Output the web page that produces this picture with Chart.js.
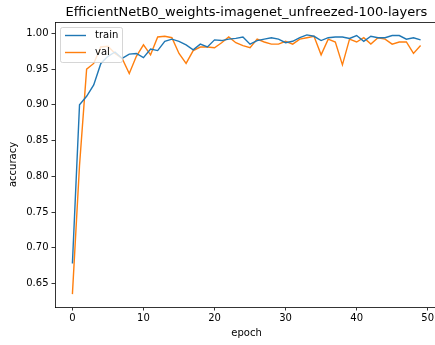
<!DOCTYPE html>
<html>
<head>
<meta charset="utf-8">
<script src="https://cdn.jsdelivr.net/npm/chart.js@4.4.1/dist/chart.umd.min.js"></script>
<style>
  html, body { margin: 0; padding: 0; background: #fff; overflow: hidden; }
  #wrap { width: 445px; height: 345px; }
</style>
</head>
<body>
<div id="wrap"><canvas id="chart" width="445" height="345"></canvas></div>
<script>
const chartTitle = 'EfficientNetB0_weights-imagenet_unfreezed-100-layers';
const xLabel = 'epoch';
const yLabel = 'accuracy';

const epochs = [...Array(50).keys()];
const train = [
  0.678, 0.900, 0.912, 0.928, 0.958, 0.968, 0.974, 0.965, 0.971, 0.972,
  0.966, 0.978, 0.976, 0.989, 0.992, 0.989, 0.984, 0.977, 0.985, 0.981,
  0.991, 0.990, 0.992, 0.993, 0.995, 0.985, 0.990, 0.992, 0.994, 0.992,
  0.987, 0.989, 0.994, 0.998, 0.996, 0.990, 0.994, 0.995, 0.995, 0.993,
  0.997, 0.989, 0.996, 0.994, 0.994, 0.997, 0.997, 0.992, 0.994, 0.991
];
const val = [
  0.635, 0.815, 0.950, 0.958, 0.981, 0.982, 0.972, 0.965, 0.944, 0.968,
  0.984, 0.970, 0.995, 0.996, 0.994, 0.972, 0.958, 0.976, 0.981, 0.981,
  0.980, 0.987, 0.995, 0.987, 0.983, 0.980, 0.992, 0.988, 0.985, 0.985,
  0.989, 0.985, 0.992, 0.994, 0.996, 0.970, 0.992, 0.988, 0.956, 0.992,
  0.988, 0.994, 0.985, 0.994, 0.992, 0.985, 0.988, 0.988, 0.972, 0.983
];
const xTicks = [0, 10, 20, 30, 40, 50];
const yTicks = [0.65, 0.70, 0.75, 0.80, 0.85, 0.90, 0.95, 1.00];

const FONT = 'DejaVu Sans';

// title, axis labels, legend and top spine drawn inside the canvas
const decorations = {
  id: 'decorations',
  afterDraw(chart) {
    const { ctx, chartArea: a } = chart;
    ctx.save();
    ctx.fillStyle = '#000';
    ctx.font = '13px "' + FONT + '"';
    ctx.textAlign = 'center';
    ctx.textBaseline = 'alphabetic';
    ctx.fillText(chartTitle, (a.left + a.right) / 2, 16);

    ctx.font = '10px "' + FONT + '"';
    ctx.textBaseline = 'middle';
    ctx.fillText(xLabel, (a.left + a.right) / 2, 333);
    ctx.save();
    ctx.translate(13, (a.top + a.bottom) / 2);
    ctx.rotate(-Math.PI / 2);
    ctx.fillText(yLabel, 0, 0);
    ctx.restore();

    // top spine
    ctx.strokeStyle = '#000';
    ctx.lineWidth = 0.8;
    ctx.beginPath();
    ctx.moveTo(a.left, a.top + 0.5);
    ctx.lineTo(a.right, a.top + 0.5);
    ctx.stroke();

    // legend box
    const bx = 60.5, by = 27.5, bw = 62, bh = 35, r = 2;
    ctx.fillStyle = 'rgba(255,255,255,0.8)';
    ctx.strokeStyle = '#cccccc';
    ctx.lineWidth = 0.8;
    ctx.beginPath();
    ctx.roundRect(bx, by, bw, bh, r);
    ctx.fill();
    ctx.stroke();
    chart.data.datasets.forEach((ds, i) => {
      const y = 35.5 + i * 17;
      ctx.strokeStyle = ds.borderColor;
      ctx.lineWidth = 1.4;
      ctx.beginPath();
      ctx.moveTo(65, y);
      ctx.lineTo(86, y);
      ctx.stroke();
      ctx.fillStyle = '#000';
      ctx.textAlign = 'left';
      ctx.fillText(ds.label, 95, y);
    });
    ctx.restore();
  }
};

new Chart(document.getElementById('chart'), {
  type: 'line',
  data: {
    datasets: [{
      label: 'train',
      data: epochs.map((e, i) => ({ x: e, y: train[i] })),
      borderColor: '#1f77b4',
      borderWidth: 1.4,
      pointRadius: 0,
      tension: 0
    }, {
      label: 'val',
      data: epochs.map((e, i) => ({ x: e, y: val[i] })),
      borderColor: '#ff7f0e',
      borderWidth: 1.4,
      pointRadius: 0,
      tension: 0
    }]
  },
  options: {
    responsive: false,
    animation: false,
    layout: { padding: { left: 0, top: 22, right: 7, bottom: 0 } },
    plugins: {
      legend: { display: false },
      tooltip: { enabled: false },
      title: { display: false }
    },
    scales: {
      x: {
        type: 'linear',
        min: -2.45,
        max: 51.45,
        afterBuildTicks: (s) => { s.ticks = xTicks.map(v => ({ value: v })); },
        afterFit: (s) => { s.height = 38; },
        grid: { drawOnChartArea: false, tickLength: 3.5, tickWidth: 0.8, tickColor: '#000' },
        border: { color: '#000', width: 0.8 },
        ticks: { color: '#000', font: { family: FONT, size: 10 }, padding: 2, maxRotation: 0 }
      },
      y: {
        min: 0.617,
        max: 1.016,
        afterBuildTicks: (s) => { s.ticks = yTicks.map(v => ({ value: v })); },
        afterFit: (s) => { s.width = 55; },
        grid: { drawOnChartArea: false, tickLength: 3.5, tickWidth: 0.8, tickColor: '#000' },
        border: { color: '#000', width: 0.8 },
        ticks: {
          color: '#000',
          font: { family: FONT, size: 10 },
          padding: 3,
          callback: (v) => v.toFixed(2)
        }
      }
    }
  },
  plugins: [decorations]
});
</script>
</body>
</html>
